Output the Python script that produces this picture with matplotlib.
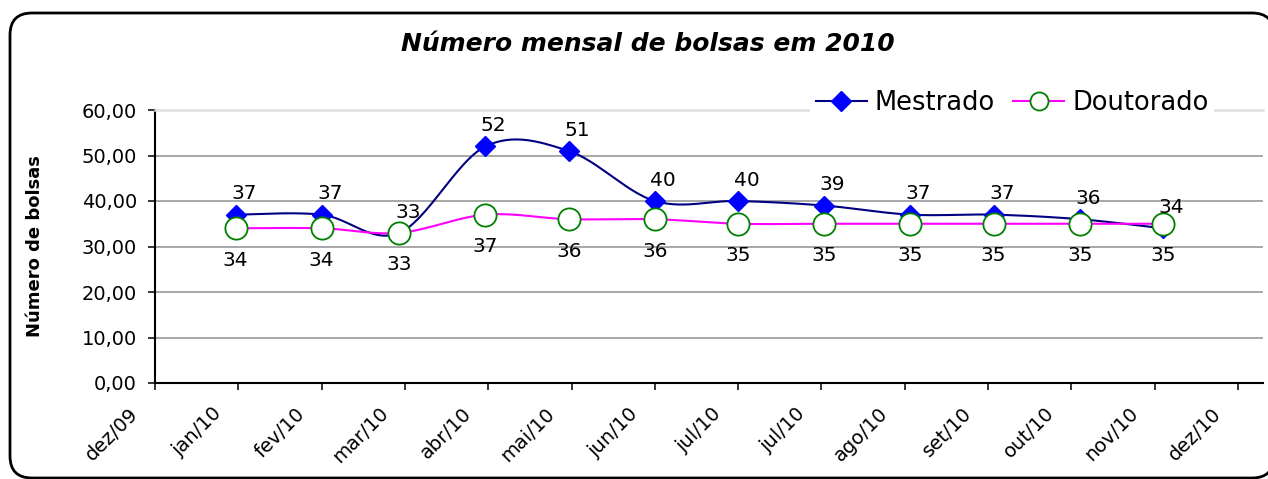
import numpy as np
import matplotlib
matplotlib.use("Agg")
import matplotlib.pyplot as plt
import matplotlib.dates as mdates
import matplotlib.transforms as mtransforms
from matplotlib.lines import Line2D
from matplotlib.patches import FancyBboxPatch
from matplotlib.ticker import FixedLocator, FuncFormatter

# Dados (um ponto por mes, no dia 1)
meses = np.array(["2010-01-01", "2010-02-01", "2010-03-01", "2010-04-01",
                  "2010-05-01", "2010-06-01", "2010-07-01", "2010-08-01",
                  "2010-09-01", "2010-10-01", "2010-11-01", "2010-12-01"],
                 dtype="datetime64[D]")
mestrado = [37, 37, 33, 52, 51, 40, 40, 39, 37, 37, 36, 34]
doutorado = [34, 34, 33, 37, 36, 36, 35, 35, 35, 35, 35, 35]
nomes_mes = ["jan", "fev", "mar", "abr", "mai", "jun",
             "jul", "ago", "set", "out", "nov", "dez"]
y_ticks = [0, 10, 20, 30, 40, 50, 60]

# eixo de datas do Excel: marcas a cada 30 dias
inicio_eixo = np.datetime64("2009-12-03")
fim_eixo = np.datetime64("2011-01-06")
x_ticks = np.arange(inicio_eixo, np.datetime64("2010-12-29"), 30)

plt.rcParams["font.family"] = ["DejaVu Sans"]


def suaviza(x, y, n=30):
    # linha suavizada (Bezier) como no Excel
    x = np.asarray(x, float)
    y = np.asarray(y, float)
    xp = np.concatenate([[x[0]], x, [x[-1]]])
    yp = np.concatenate([[y[0]], y, [y[-1]]])
    t = np.linspace(0, 1, n)[:, None]
    pts = []
    for i in range(len(x) - 1):
        p0 = np.array([xp[i + 1], yp[i + 1]])
        p3 = np.array([xp[i + 2], yp[i + 2]])
        c1 = p0 + (np.array([xp[i + 2], yp[i + 2]]) - np.array([xp[i], yp[i]])) / 6
        c2 = p3 - (np.array([xp[i + 3], yp[i + 3]]) - np.array([xp[i + 1], yp[i + 1]])) / 6
        seg = ((1 - t) ** 3) * p0 + 3 * ((1 - t) ** 2) * t * c1 + 3 * (1 - t) * t ** 2 * c2 + t ** 3 * p3
        pts.append(seg)
    pts = np.vstack(pts)
    return pts[:, 0], pts[:, 1]


fig = plt.figure(figsize=(12.68, 4.79), dpi=100)

# moldura arredondada do grafico
bg = fig.add_axes([0, 0, 1, 1], zorder=-1)
bg.set_xlim(0, 1268)
bg.set_ylim(479, 0)
bg.axis("off")
bg.add_patch(FancyBboxPatch((10, 13), 1264, 465,
                            boxstyle="round,pad=0,rounding_size=22",
                            fc="white", ec="black", lw=2, clip_on=False))

ax = fig.add_axes([155 / 1268, 96 / 479, 1108 / 1268, 273 / 479])
ax.set_facecolor("none")

xd = mdates.date2num(meses)

xs, ys = suaviza(xd, mestrado)
ax.plot(xs, ys, color="#000080", lw=1.5, zorder=3)
ax.plot(xd, mestrado, ls="none", marker="D", ms=10.5,
        mfc="#0000ff", mec="#0000ff", zorder=4)

xs, ys = suaviza(xd, doutorado)
ax.plot(xs, ys, color="#ff00ff", lw=1.5, zorder=5)
ax.plot(xd, doutorado, ls="none", marker="o", ms=16,
        mfc="white", mec="#008000", mew=1.3, zorder=6)

for xi, v in zip(xd, mestrado):
    ax.annotate(str(v), (xi, v), xytext=(6, 15), textcoords="offset points",
                ha="center", va="center", fontsize=14.5, zorder=7)
for xi, v in zip(xd, doutorado):
    ax.annotate(str(v), (xi, v), xytext=(0, -23), textcoords="offset points",
                ha="center", va="center", fontsize=14.5, zorder=7)

ax.set_ylim(0, 60)
ax.yaxis.set_major_locator(FixedLocator(y_ticks))
ax.yaxis.set_major_formatter(FuncFormatter(lambda v, p: f"{v:.2f}".replace(".", ",")))
ax.set_xlim(mdates.date2num(inicio_eixo), mdates.date2num(fim_eixo))
ax.xaxis.set_major_locator(FixedLocator(mdates.date2num(x_ticks)))


def fmt_mes(v, p):
    d = mdates.num2date(v)
    return f"{nomes_mes[d.month - 1]}/{d.year % 100:02d}"


ax.xaxis.set_major_formatter(FuncFormatter(fmt_mes))

ax.grid(axis="y", color="#a0a0a0", lw=1.3, zorder=0)
ax.set_axisbelow(True)
ax.spines["right"].set_visible(False)
ax.spines["top"].set_color("#e0e0e0")
ax.spines["top"].set_linewidth(1.8)
ax.spines["left"].set_linewidth(1.5)
ax.spines["bottom"].set_linewidth(1.5)

ax.tick_params(axis="y", length=5, width=1.1, pad=8, labelsize=14)
ax.tick_params(axis="x", length=5, width=1.1, pad=10, labelsize=14)
desloca = mtransforms.ScaledTranslation(-13 / 100, 0, fig.dpi_scale_trans)
for lab in ax.get_xticklabels():
    lab.set_rotation(45)
    lab.set_ha("right")
    lab.set_transform(lab.get_transform() + desloca)

ax.set_ylabel("Número de bolsas", fontsize=13, fontweight="bold")
ax.yaxis.set_label_coords(-0.100, 0.5)

fig.text(647.5 / 1268, 1 - 44 / 479, "Número mensal de bolsas em 2010",
         ha="center", va="center", fontsize=18, fontweight="bold",
         fontstyle="italic")

handles = [
    Line2D([], [], color="#000080", lw=1.5, marker="D", ms=10,
           mfc="#0000ff", mec="#0000ff"),
    Line2D([], [], color="#ff00ff", lw=1.5, marker="o", ms=13,
           mfc="white", mec="#008000", mew=1.3),
]
leg = fig.legend(handles, ["Mestrado", "Doutorado"], loc="center",
                 bbox_to_anchor=(1012 / 1268, 1 - 103 / 479), ncol=2,
                 fontsize=18.5, handlelength=2.0, handletextpad=0.3,
                 columnspacing=0.7, frameon=True, fancybox=False,
                 borderpad=0.2)
leg.get_frame().set_facecolor("white")
leg.get_frame().set_linewidth(0)
leg.get_frame().set_alpha(1)

fig.savefig("out.png", dpi=100)
